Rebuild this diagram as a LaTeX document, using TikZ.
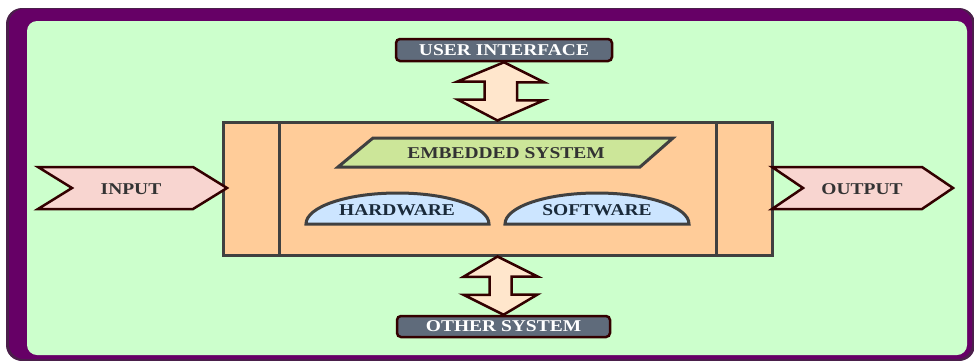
\documentclass[tikz,border=0pt]{standalone}
\usepackage{fontspec}
\setmainfont{Liberation Serif}[FakeStretch=1.18]
\usetikzlibrary{calc}
\definecolor{frame}{HTML}{660066}
\definecolor{frameedge}{HTML}{4A1F4A}
\definecolor{bg}{HTML}{CCFFCC}
\definecolor{mainfill}{HTML}{FFCC99}
\definecolor{gray4}{HTML}{404040}
\definecolor{parfill}{HTML}{CCE699}
\definecolor{halffill}{HTML}{CCE5FF}
\definecolor{pinkfill}{HTML}{F8D5D0}
\definecolor{brown}{HTML}{330000}
\definecolor{uifill}{HTML}{5F6B7B}
\definecolor{arrfill}{HTML}{FFE6CC}
\definecolor{txtdark}{HTML}{333333}
\definecolor{txtblue}{HTML}{1A2A3A}
\tikzset{
  lab/.style={font=\fontsize{16.5}{18}\selectfont\bfseries, inner sep=0pt},
  uibox/.style={draw=brown, fill=uifill, line width=2.5pt, rounded corners=4pt,
    minimum width=216, minimum height=22, text=white, lab},
  dblarrow/.style={draw=brown, fill=arrfill, line width=2.5pt, line join=miter},
  flagarrow/.style={draw=brown, fill=pinkfill, line width=2.5pt, line join=miter},
  gline/.style={draw=gray4, line width=3pt},
}
\begin{document}
\begin{tikzpicture}[x=1pt,y=-1pt]
\useasboundingbox (0,0) rectangle (974,360);
% frame
\fill[frameedge, rounded corners=16pt] (6,8) rectangle (975,361);
\fill[frame, rounded corners=15pt] (9,9) rectangle (972,359);
\fill[bg, rounded corners=10pt] (27,21) rectangle (967,355);
% main box
\node[gline, fill=mainfill, minimum width=549, minimum height=133, inner sep=0pt] (main) at (497.5,188.5) {};
\draw[gline] (279,122) -- (279,255);
\draw[gline] (716,122) -- (716,255);
% embedded system parallelogram
\draw[gline, fill=parfill, line join=miter] (373,138) -- (673,138) -- (640,167) -- (338,167) -- cycle;
\node[lab, text=txtdark] (emb) at (506,153) {EMBEDDED SYSTEM};
% hardware / software
\draw[gline, fill=halffill] (306,224) arc[start angle=180, end angle=360, x radius=91.5, y radius=31] -- cycle;
\node[lab, text=txtblue] (hw) at (397,210) {HARDWARE};
\draw[gline, fill=halffill] (505,224) arc[start angle=180, end angle=360, x radius=92, y radius=31] -- cycle;
\node[lab, text=txtblue] (sw) at (597,210) {SOFTWARE};
% input / output
\draw[flagarrow] (38,167) -- (193,167) -- (227,188) -- (193,209) -- (38,209) -- (72,188) -- cycle;
\node[lab, text=txtdark] (in) at (131,189) {INPUT};
\draw[flagarrow] (772,167) -- (922,167) -- (953,188) -- (922,209) -- (772,209) -- (803,188) -- cycle;
\node[lab, text=txtdark] (out) at (862,189) {OUTPUT};
% user interface / other system
\node[uibox] (ui) at (504,50) {USER INTERFACE};
\node[uibox, minimum width=213, minimum height=21] (os) at (503.5,326.5) {OTHER SYSTEM};
% double arrows
\draw[dblarrow] (ui.south) -- ++(40,20) -- ++(-27,0) -- ++(0,18) -- ++(27,0) -- (main.north) -- ++(-40,-21) -- ++(27,0) -- ++(0,-18) -- ++(-27,0) -- cycle;
\draw[dblarrow] (main.south) -- ++(40,20) -- ++(-26,0) -- ++(0,18) -- ++(26,0) -- (os.north) -- ++(-40,-20) -- ++(26,0) -- ++(0,-18) -- ++(-26,0) -- cycle;
\end{tikzpicture}
\end{document}
